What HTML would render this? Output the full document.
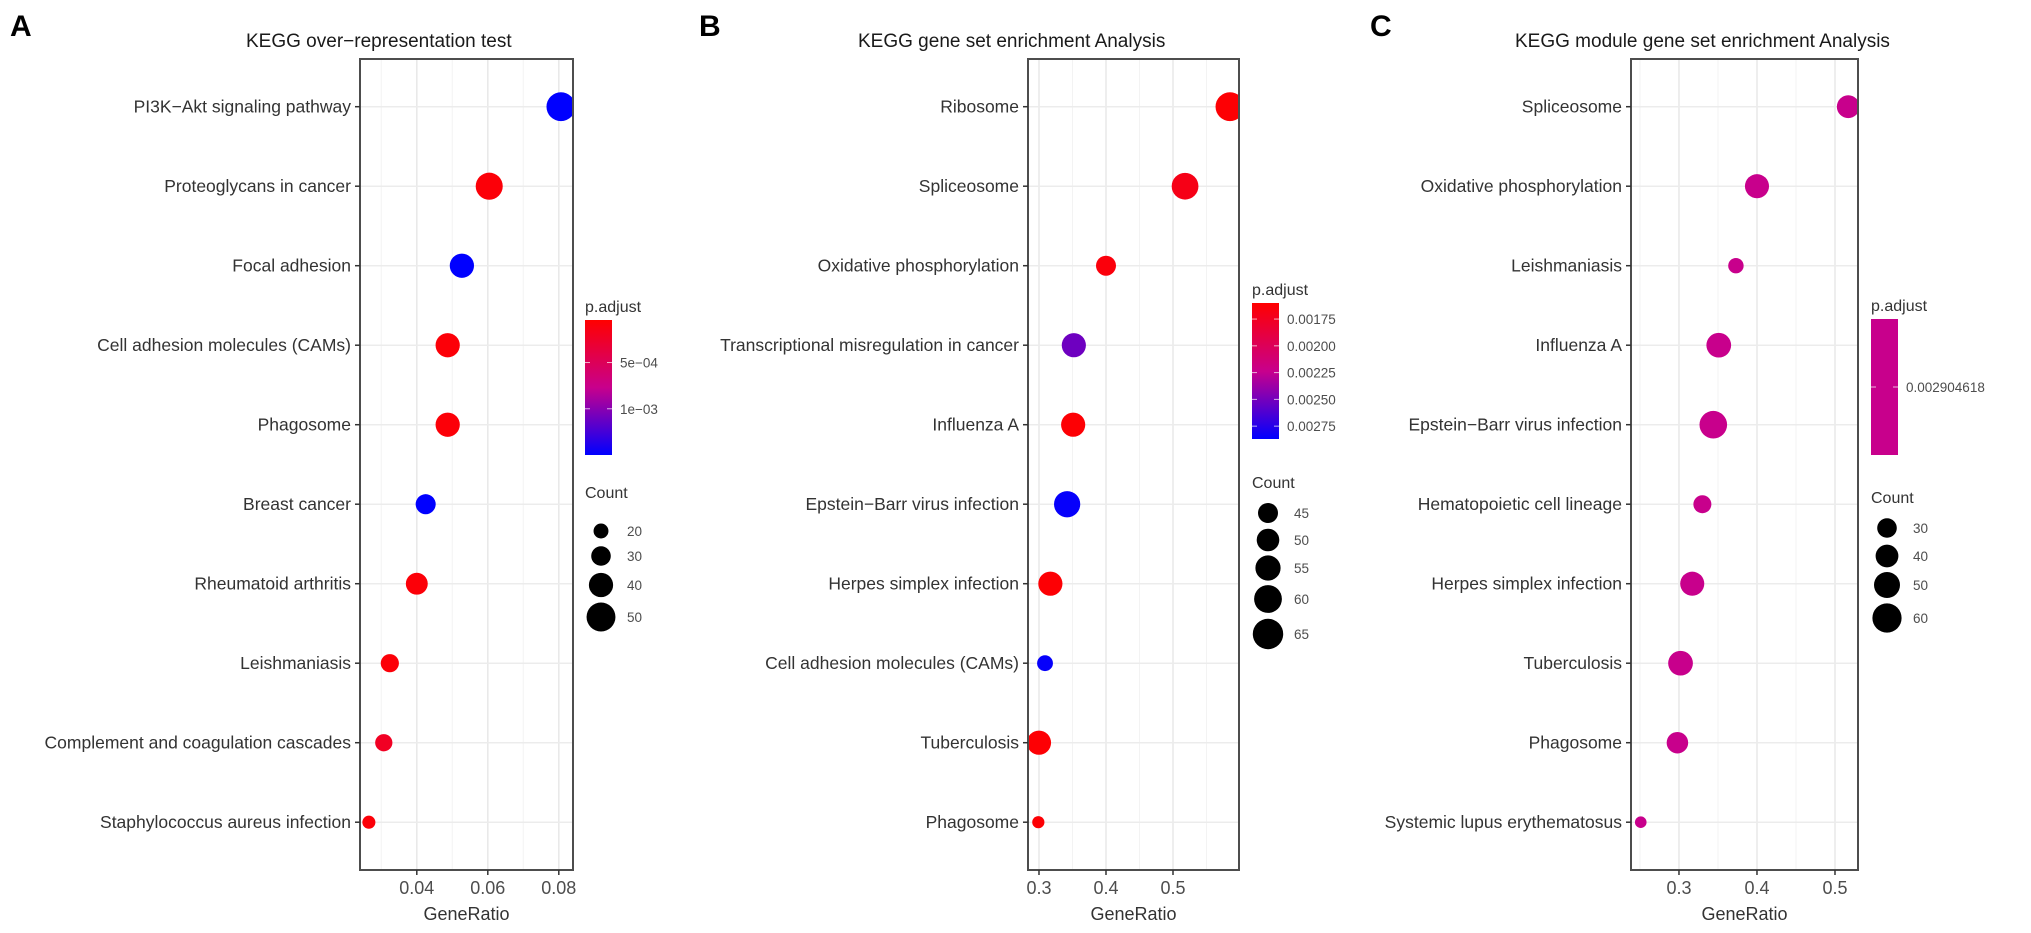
<!DOCTYPE html>
<html><head><meta charset="utf-8"><style>
html,body{margin:0;padding:0;background:#fff;}
svg{display:block;font-family:"Liberation Sans",Arial,sans-serif;}
</style></head><body>
<svg id="chart" width="2031" height="933" viewBox="0 0 2031 933"></svg>
<script>
// ---------- Panel A data ----------
const aTerms = ["PI3K\u2212Akt signaling pathway","Proteoglycans in cancer","Focal adhesion","Cell adhesion molecules (CAMs)","Phagosome","Breast cancer","Rheumatoid arthritis","Leishmaniasis","Complement and coagulation cascades","Staphylococcus aureus infection"];
const aRatio = [0.0806,0.0604,0.0527,0.0487,0.0487,0.0425,0.0400,0.0324,0.0307,0.0265];
const aCount = [50,46,40,40,40,31,35,27,25,16];
const aPadj = [0.0015,0.00008,0.0015,0.00008,0.00008,0.0015,0.00008,0.00008,0.00022,0.00008];
const aXTicks = [0.04,0.06,0.08];
const aXMinor = [0.03,0.05,0.07];
const aColorTicks = [0.0005,0.001];
const aColorTickLabels = ["5e\u221204","1e\u221203"];
const aSizeLegend = [20,30,40,50];
// ---------- Panel B data ----------
const bTerms = ["Ribosome","Spliceosome","Oxidative phosphorylation","Transcriptional misregulation in cancer","Influenza A","Epstein\u2212Barr virus infection","Herpes simplex infection","Cell adhesion molecules (CAMs)","Tuberculosis","Phagosome"];
const bRatio = [0.585,0.518,0.400,0.352,0.351,0.342,0.317,0.309,0.300,0.299];
const bCount = [62,58,45,53,53,57,53,37,53,30];
const bPadj = [0.00162,0.0017,0.00165,0.00252,0.00162,0.00285,0.00162,0.00285,0.00162,0.00162];
const bXTicks = [0.3,0.4,0.5];
const bXMinor = [0.35,0.45,0.55];
const bColorTicks = [0.00175,0.002,0.00225,0.0025,0.00275];
const bColorTickLabels = ["0.00175","0.00200","0.00225","0.00250","0.00275"];
const bSizeLegend = [45,50,55,60,65];
// ---------- Panel C data ----------
const cTerms = ["Spliceosome","Oxidative phosphorylation","Leishmaniasis","Influenza A","Epstein\u2212Barr virus infection","Hematopoietic cell lineage","Herpes simplex infection","Tuberculosis","Phagosome","Systemic lupus erythematosus"];
const cRatio = [0.517,0.400,0.373,0.351,0.344,0.330,0.317,0.302,0.298,0.251];
const cCount = [40,44,17,46,55,25,44,46,36,5];
const cXTicks = [0.3,0.4,0.5];
const cXMinor = [0.25,0.35,0.45];
const cColorLabel = ["0.002904618"];
const cSizeLegend = [30,40,50,60];

const NS="http://www.w3.org/2000/svg";
const svg=document.getElementById('chart');
function mk(tag,attrs,parent){const e=document.createElementNS(NS,tag);for(const k in attrs)e.setAttribute(k,attrs[k]);(parent||svg).appendChild(e);return e;}
function txt(s,attrs,parent){const e=mk('text',attrs,parent);e.textContent=s;return e;}
function lerp(a,b,t){return Math.round(a+(b-a)*t);}
function gradColor(t){ // 0 = red (low p), 1 = blue (high p)
  const stops=[[255,0,0],[200,0,140],[0,0,255]];
  let c0,c1,tt; if(t<=0.5){c0=stops[0];c1=stops[1];tt=t/0.5;}else{c0=stops[1];c1=stops[2];tt=(t-0.5)/0.5;}
  return `rgb(${lerp(c0[0],c1[0],tt)},${lerp(c0[1],c1[1],tt)},${lerp(c0[2],c1[2],tt)})`;
}
const TOP=59,BOT=870,ROW0=106.7,ROWH=79.5;

function panel(cfg){
  const g=mk('g',{});
  
  
  const x=v=>cfg.x0+(v-cfg.d0)/(cfg.d1-cfg.d0)*(cfg.x1-cfg.x0);
  const y=i=>ROW0+i*ROWH;
  // letter & title
  const L=txt(cfg.letter,{x:cfg.letterX,y:36,'font-size':30,'font-weight':'bold',fill:'#000'},g);
  
  const T=txt(cfg.title,{x:cfg.titleX,y:47,'font-size':19,fill:'#1a1a1a'},g);
  
  // grid
  cfg.minor.forEach(v=>{const l=mk('line',{x1:x(v),x2:x(v),y1:TOP,y2:BOT,stroke:'#f3f3f3','stroke-width':1},g);
    });
  cfg.ticks.forEach(v=>{const l=mk('line',{x1:x(v),x2:x(v),y1:TOP,y2:BOT,stroke:'#e8e8e8','stroke-width':1.5},g);
    });
  cfg.terms.forEach((t,i)=>{const l=mk('line',{x1:cfg.x0,x2:cfg.x1,y1:y(i),y2:y(i),stroke:'#ececec','stroke-width':1.5},g);
    });
  // dots
  const cg=mk('g',{},g);
  cg.setAttribute('clip-path',`url(#clip-${cfg.id})`);
  const cp=mk('clipPath',{id:'clip-'+cfg.id},g);
  mk('rect',{x:cfg.x0,y:TOP,width:cfg.x1-cfg.x0,height:BOT-TOP},cp);
  cfg.terms.forEach((t,i)=>{
    const c=mk('circle',{cx:x(cfg.ratio[i]),cy:y(i),r:cfg.rad(cfg.count[i]),fill:cfg.color(i)},cg);
    
    
  });
  // border
  const b=mk('rect',{x:cfg.x0,y:TOP,width:cfg.x1-cfg.x0,height:BOT-TOP,fill:'none',stroke:'#4d4d4d','stroke-width':2},g);
  
  // y labels
  cfg.terms.forEach((t,i)=>{
    mk('line',{x1:cfg.x0-5,x2:cfg.x0,y1:y(i),y2:y(i),stroke:'#333','stroke-width':1.5},g);
    const e=txt(t,{x:cfg.x0-9,y:y(i)+6,'font-size':17.5,'text-anchor':'end',fill:'#333'},g);
    
  });
  // x ticks
  cfg.ticks.forEach(v=>{
    mk('line',{x1:x(v),x2:x(v),y1:BOT,y2:BOT+5,stroke:'#333','stroke-width':1.5},g);
    const e=txt(String(v),{x:x(v),y:894,'font-size':18,'text-anchor':'middle',fill:'#4d4d4d'},g);
    
  });
  const xt=txt('GeneRatio',{x:(cfg.x0+cfg.x1)/2,y:920,'font-size':18,'text-anchor':'middle',fill:'#333'},g);
  
  // colour legend
  const lg=mk('g',{},g);
  
  txt('p.adjust',{x:cfg.legX,y:cfg.cbTop-8,'font-size':16,fill:'#333'},lg);
  const gid='grad-'+cfg.id;
  const lgd=mk('linearGradient',{id:gid,x1:0,y1:0,x2:0,y2:1},lg);
  if(cfg.single){mk('stop',{offset:0,'stop-color':'rgb(200,0,140)'},lgd);mk('stop',{offset:1,'stop-color':'rgb(200,0,140)'},lgd);}
  else{for(let k=0;k<=10;k++)mk('stop',{offset:k/10,'stop-color':gradColor(k/10)},lgd);}
  mk('rect',{x:cfg.legX,y:cfg.cbTop,width:27,height:cfg.cbBot-cfg.cbTop,fill:`url(#${gid})`},lg);
  cfg.cbTicks.forEach((ty,k)=>{
    mk('line',{x1:cfg.legX,x2:cfg.legX+5,y1:ty,y2:ty,stroke:'#fff','stroke-width':1,opacity:0.7},lg);
    mk('line',{x1:cfg.legX+22,x2:cfg.legX+27,y1:ty,y2:ty,stroke:'#fff','stroke-width':1,opacity:0.7},lg);
    txt(cfg.cbLabels[k],{x:cfg.legX+35,y:ty+5,'font-size':13.5,fill:'#4d4d4d'},lg);
  });
  // size legend
  const sg=mk('g',{},g);
  
  txt('Count',{x:cfg.legX,y:cfg.countY,'font-size':16,fill:'#333'},sg);
  cfg.sizeLegend.forEach((c,k)=>{
    mk('circle',{cx:cfg.legX+16,cy:cfg.sizeY[k],r:cfg.rad(c),fill:'#000'},sg);
    txt(String(c),{x:cfg.legX+42,y:cfg.sizeY[k]+5,'font-size':13.5,fill:'#4d4d4d'},sg);
  });
}

// Panel A
const aMin=0.00004,aMax=0.0015;
const aCb=(v)=>320+(v-aMin)/(aMax-aMin)*135;
panel({id:'panel-a',letter:'A',letterX:10,title:'KEGG over\u2212representation test',titleX:246,
  x0:360,x1:573,d0:0.024,d1:0.084,terms:aTerms,ratio:aRatio,count:aCount,ticks:aXTicks,minor:aXMinor,
  rad:c=>2.8+0.233*c,color:i=>gradColor((aPadj[i]-aMin)/(aMax-aMin)),
  legX:585,cbTop:320,cbBot:455,cbTicks:aColorTicks.map(aCb),cbLabels:aColorTickLabels,
  countY:498,sizeLegend:aSizeLegend,sizeY:[531,556,585,617]});
// Panel B
const bMin=0.0016,bMax=0.00287;
const bCb=(v)=>303+(v-bMin)/(bMax-bMin)*136;
panel({id:'panel-b',letter:'B',letterX:699,title:'KEGG gene set enrichment Analysis',titleX:858,
  x0:1028,x1:1239,d0:0.2836,d1:0.5985,terms:bTerms,ratio:bRatio,count:bCount,ticks:bXTicks,minor:bXMinor,
  rad:c=>-1.7+0.26*c,color:i=>gradColor((bPadj[i]-bMin)/(bMax-bMin)),
  legX:1252,cbTop:303,cbBot:439,cbTicks:bColorTicks.map(bCb),cbLabels:bColorTickLabels,
  countY:488,sizeLegend:bSizeLegend,sizeY:[513,540,568,599,634]});
// Panel C
panel({id:'panel-c',letter:'C',letterX:1370,title:'KEGG module gene set enrichment Analysis',titleX:1515,
  x0:1631,x1:1858,d0:0.2385,d1:0.5295,terms:cTerms,ratio:cRatio,count:cCount,ticks:cXTicks,minor:cXMinor,
  rad:c=>5+0.16*c,color:i=>'rgb(200,0,140)',single:true,
  legX:1871,cbTop:319,cbBot:455,cbTicks:[387],cbLabels:cColorLabel,
  countY:503,sizeLegend:cSizeLegend,sizeY:[528,556,585,618]});
</script>
</body></html>
